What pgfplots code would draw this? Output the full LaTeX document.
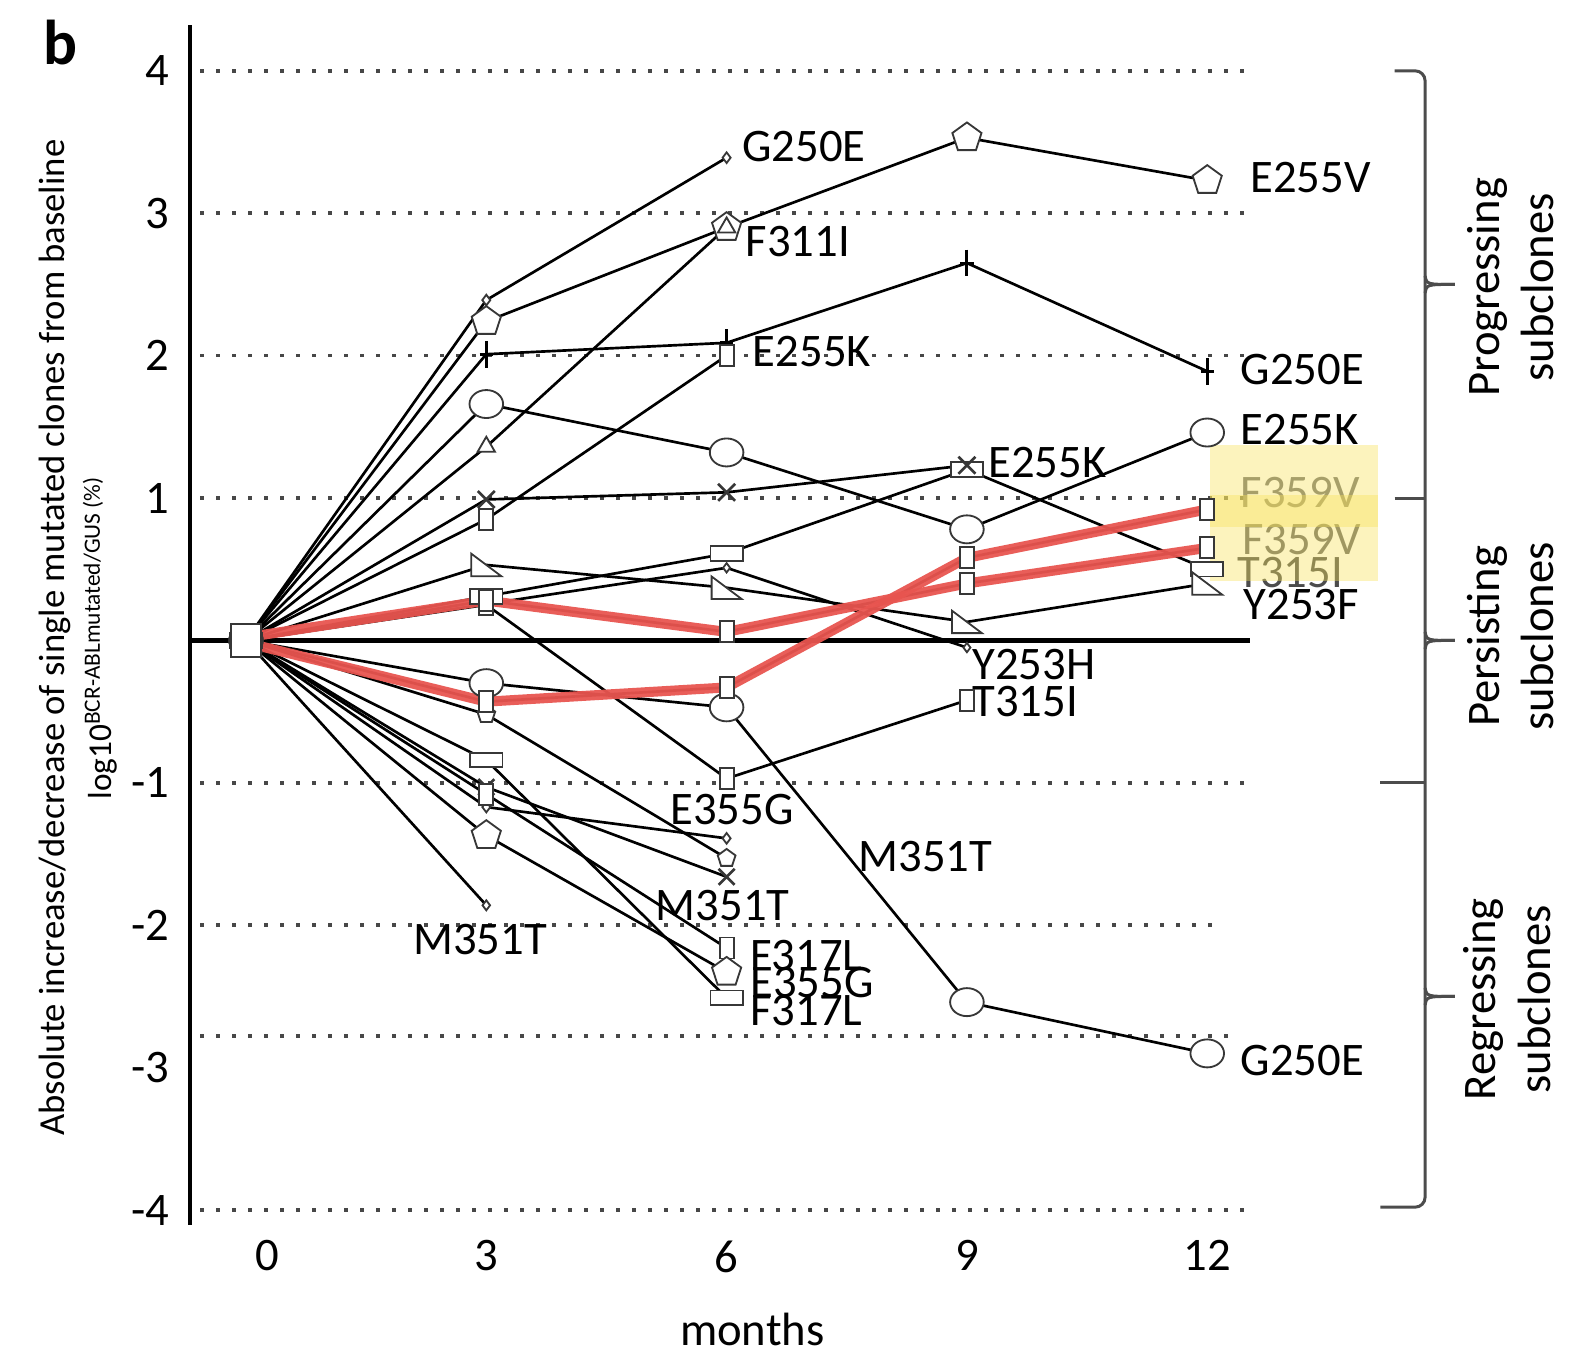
\documentclass[border=0pt]{standalone}
\usepackage{pgfplots}
\pgfplotsset{compat=1.18}
\usepackage{graphicx}
\usepackage{fontspec}
\setmainfont{Carlito}
\usetikzlibrary{plotmarks}
\definecolor{redhl}{RGB}{232,85,80}
\definecolor{mk}{RGB}{55,55,55}
\definecolor{hly}{RGB}{247,226,90}
\pgfdeclareplotmark{rtri}{%
 \pgfpathmoveto{\pgfqpoint{-1\pgfplotmarksize}{0.75\pgfplotmarksize}}%
 \pgfpathlineto{\pgfqpoint{-1\pgfplotmarksize}{-0.75\pgfplotmarksize}}%
 \pgfpathlineto{\pgfqpoint{1\pgfplotmarksize}{-0.75\pgfplotmarksize}}%
 \pgfpathclose\pgfusepathqfillstroke}
\pgfplotsset{
 ser/.style={black, line width=0.8pt},
 mko/.style={mark options={solid, fill=white, draw=mk, line width=0.55pt, #1}},
}
\tikzset{
 lab/.style={anchor=west, inner sep=0pt, font=\fontsize{14}{16}\selectfont},
 grd/.style={black!72, line width=1.1pt, dash pattern=on 1.2pt off 3.6pt},
 brc/.style={line width=0.9pt, black!70, rounded corners=3pt},
 side/.style={rotate=90, inner sep=0pt, font=\fontsize{14}{16}\selectfont},
}
\begin{document}
\begin{tikzpicture}
\path[use as bounding box] (0pt,0pt) rectangle (470.7pt,405.9pt);
\begin{axis}[
 at={(57pt,38.4pt)}, anchor=south west, scale only axis, width=318pt, height=360pt,
 xmin=-0.699, xmax=12.534, ymin=-4.105, ymax=4.322,
 clip=false, axis line style={draw=none}, tick style={draw=none},
 xtick={0.27,3,6,9,12}, xticklabels={0,3,6,9,12},
 ytick={-4,-3,-2,-1,1,2,3,4}, yticklabels={-4,-3,-2,-1,1,2,3,4},
 ticklabel style={font=\fontsize{14}{16}\selectfont, inner sep=0pt},
 yticklabel style={xshift=-6pt},
 xticklabel style={yshift=-4.5pt},
]
% dotted reference lines
\draw[grd] (axis cs:-0.57,4) -- (axis cs:12.47,4);
\draw[grd] (axis cs:-0.57,3) -- (axis cs:12.47,3);
\draw[grd] (axis cs:-0.57,2) -- (axis cs:12.47,2);
\draw[grd] (axis cs:-0.57,1) -- (axis cs:12.47,1);
\draw[grd] (axis cs:-0.57,-1) -- (axis cs:12.47,-1);
\draw[grd] (axis cs:-0.57,-2) -- (axis cs:12.16,-2);
\draw[grd] (axis cs:-0.57,-2.78) -- (axis cs:12.40,-2.78);
\draw[grd] (axis cs:-0.57,-4) -- (axis cs:12.47,-4);
% axis line and zero line
\draw[line width=1.3pt] (axis cs:-0.699,-4.105) -- (axis cs:-0.699,4.322);
\draw[line width=1.5pt] (axis cs:-0.699,0) -- (axis cs:12.534,0);

% upper series
\addplot[ser, mark=diamond*, mark size=1.6pt, mko={}] coordinates {(0,0) (3,2.39) (6,3.39)};
\addplot[ser, mark=pentagon*, mark size=4.6pt, mko={}] coordinates {(0,0) (3,2.24) (6,2.90) (9,3.53) (12,3.23)};
\addplot[ser, mark=triangle*, mark size=3pt, mko={}] coordinates {(0,0) (3,1.36) (6,2.90)};
\addplot[ser, mark=+, mark size=2pt, mko={draw=black, line width=0.9pt, yscale=2}] coordinates {(0,0) (3,2.01) (6,2.09) (9,2.65) (12,1.89)};
\addplot[ser, mark=square*, mark size=2.1pt, mko={yscale=1.5}] coordinates {(0,0) (3,0.85) (6,2.00)};
\addplot[ser, mark=*, mark size=4.2pt, mko={xscale=1.2}] coordinates {(0,0) (3,1.66) (6,1.32) (9,0.78) (12,1.46)};
\addplot[ser, mark=square*, mark size=2.2pt, mko={xscale=2.2}] coordinates {(0,0) (3,0.31) (6,0.61) (9,1.20) (12,0.50)};
\addplot[ser, mark=x, mark size=3.6pt, mko={draw=mk, line width=0.8pt}] coordinates {(0,0) (3,0.99) (6,1.04) (9,1.23)};
\addplot[ser, mark=rtri, mark size=4.5pt, mko={}] coordinates {(0,0) (3,0.53) (6,0.37) (9,0.13) (12,0.40)};
\addplot[ser, mark=diamond*, mark size=1.4pt, mko={}] coordinates {(0,0) (6,0.51) (9,-0.05)};
\addplot[ser, mark=square*, mark size=2.1pt, mko={yscale=1.5}] coordinates {(0,0) (3,0.25) (6,-0.97) (9,-0.42)};
% lower series
\addplot[ser, mark=*, mark size=4.2pt, mko={xscale=1.2}] coordinates {(0,0) (3,-0.30) (6,-0.47) (9,-2.54) (12,-2.90)};
\addplot[ser, mark=pentagon*, mark size=2.8pt, mko={}] coordinates {(0,0) (3,-0.52) (6,-1.53)};
\addplot[ser, mark=square*, mark size=2.2pt, mko={xscale=2.2}] coordinates {(0,0) (3,-0.84) (6,-2.51)};
\addplot[ser, mark=x, mark size=3.4pt, mko={draw=mk, line width=0.8pt}] coordinates {(0,0) (3,-1.03) (6,-1.66)};
\addplot[ser, mark=diamond*, mark size=1.6pt, mko={}] coordinates {(0,0) (3,-1.17) (6,-1.39)};
\addplot[ser, mark=square*, mark size=2.1pt, mko={yscale=1.5}] coordinates {(0,0) (3,-1.08) (6,-2.16)};
\addplot[ser, mark=pentagon*, mark size=4.6pt, mko={}] coordinates {(0,0) (3,-1.37) (6,-2.33)};
\addplot[ser, mark=diamond*, mark size=1.5pt, mko={}] coordinates {(0,0) (3,-1.86)};
% highlighted series (black with red overlay)
\addplot[ser, mark=square*, mark size=2.1pt, mko={yscale=1.5}] coordinates {(0,0) (3,0.28) (6,0.06) (9,0.40) (12,0.65)};
\addplot[ser, mark=square*, mark size=2.1pt, mko={yscale=1.5}] coordinates {(0,0) (3,-0.43) (6,-0.33) (9,0.58) (12,0.92)};
\addplot[redhl, line width=3pt, opacity=0.95, mark=none] coordinates {(0.1,0.03) (3,0.28) (6,0.06) (9,0.40) (12,0.65)};
\addplot[redhl, line width=3pt, opacity=0.95, mark=none] coordinates {(0.1,-0.03) (3,-0.43) (6,-0.33) (9,0.58) (12,0.92)};
% baseline
\addplot[only marks, mark=square*, mark size=4.6pt, mark options={fill=white, draw=mk, line width=0.6pt, yscale=1.1}] coordinates {(0,0)};

% mutation labels
\node[lab] at (axis cs:6.19,3.47) {G250E};
\node[lab] at (axis cs:12.53,3.25) {E255V};
\node[lab] at (axis cs:6.23,2.80) {F311I};
\node[lab] at (axis cs:6.32,2.03) {E255K};
\node[lab] at (axis cs:12.41,1.90) {G250E};
\node[lab] at (axis cs:12.41,1.48) {E255K};
\node[lab] at (axis cs:9.26,1.25) {E255K};
\node[lab, text=black!55] at (axis cs:12.41,1.04) {F359V};
\node[lab, text=black!60] at (axis cs:12.43,0.71) {F359V};
\node[lab, text=black!70] at (axis cs:12.37,0.48) {T315I};
\node[lab] at (axis cs:12.45,0.25) {Y253F};
\node[lab] at (axis cs:9.06,-0.17) {Y253H};
\node[lab] at (axis cs:9.06,-0.43) {T315I};
\node[lab] at (axis cs:5.29,-1.19) {E355G};
\node[lab] at (axis cs:7.64,-1.52) {M351T};
\node[lab] at (axis cs:5.11,-1.86) {M351T};
\node[lab] at (axis cs:2.08,-2.10) {M351T};
\node[lab] at (axis cs:6.29,-2.21) {F317L};
\node[lab] at (axis cs:6.29,-2.40) {E355G};
\node[lab] at (axis cs:6.29,-2.60) {F317L};
\node[lab] at (axis cs:12.41,-2.95) {G250E};
% highlight
\fill[hly, opacity=0.4] (axis cs:12.03,1.373) rectangle (axis cs:14.13,0.794);
\fill[hly, opacity=0.4] (axis cs:12.03,1.022) rectangle (axis cs:14.13,0.418);
% braces
\draw[brc] (axis cs:14.34,4.0) -- (axis cs:14.72,4.0) -- (axis cs:14.72,-3.98) -- (axis cs:14.16,-3.98);
\draw[brc] (axis cs:14.34,1.0) -- (axis cs:14.72,1.0);
\draw[brc] (axis cs:14.16,-1.0) -- (axis cs:14.72,-1.0);
\draw[line width=0.9pt, black!70] (axis cs:14.72,2.56) .. controls (axis cs:14.74,2.50) .. (axis cs:15.09,2.50);
\draw[line width=0.9pt, black!70] (axis cs:14.72,2.44) .. controls (axis cs:14.74,2.50) .. (axis cs:15.09,2.50);
\draw[line width=0.9pt, black!70] (axis cs:14.72,0.06) .. controls (axis cs:14.74,0.0) .. (axis cs:15.09,0.0);
\draw[line width=0.9pt, black!70] (axis cs:14.72,-0.06) .. controls (axis cs:14.74,0.0) .. (axis cs:15.09,0.0);
\draw[line width=0.9pt, black!70] (axis cs:14.72,-2.44) .. controls (axis cs:14.74,-2.50) .. (axis cs:15.09,-2.50);
\draw[line width=0.9pt, black!70] (axis cs:14.72,-2.56) .. controls (axis cs:14.74,-2.50) .. (axis cs:15.09,-2.50);
\node[side] at (axis cs:15.5,2.48) {Progressing};
\node[side] at (axis cs:16.12,2.48) {subclones};
\node[side] at (axis cs:15.5,0.03) {Persisting};
\node[side] at (axis cs:16.12,0.03) {subclones};
\node[side] at (axis cs:15.45,-2.52) {Regressing};
\node[side] at (axis cs:16.08,-2.52) {subclones};
% axis titles
\node[rotate=90, inner sep=0pt, font=\fontsize{11}{13}\selectfont] at (axis cs:-2.38,0.02) {Absolute increase/decrease of single mutated clones from baseline};
\node[rotate=90, inner sep=0pt, font=\fontsize{10}{12}\selectfont] at (axis cs:-1.82,0.02) {log10\textsuperscript{BCR-ABLmutated/GUS (\%)}};
\node[font=\fontsize{14}{16}\selectfont] at (axis cs:6.32,-4.84) {months};
\node[font=\fontsize{19}{21}\selectfont\bfseries] at (axis cs:-2.32,4.2) {b};
\end{axis}
\end{tikzpicture}
\end{document}
